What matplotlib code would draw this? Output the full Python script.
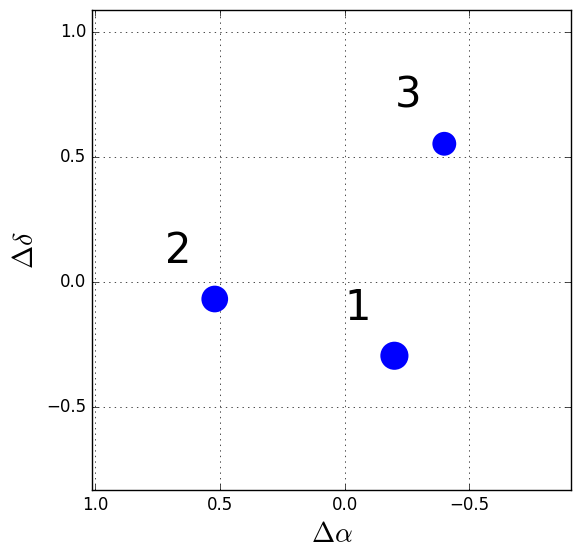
import matplotlib
matplotlib.use("Agg")
import matplotlib.pyplot as plt

# offsets of the sources (arcsec)
d_alpha = [-0.20, 0.52, -0.40]
d_delta = [-0.295, -0.068, 0.553]
sizes = [410, 370, 295]
labels = ["1", "2", "3"]

plt.style.use("classic")

fig = plt.figure(figsize=(5.8, 5.58), dpi=100, facecolor="white")
ax = fig.add_axes([0.1586, 0.1219, 0.826, 0.8601])

ax.scatter(d_alpha, d_delta, s=sizes, c="blue", linewidths=0, zorder=3)

# numbers sit up and to the left of each dot
for x, y, lab in zip(d_alpha, d_delta, labels):
    ax.text(x + 0.2, y + 0.145, lab, fontsize=30)

ax.set_xlim(1.012, -0.908)
ax.set_ylim(-0.832, 1.088)
ax.set_xticks([1.0, 0.5, 0.0, -0.5])
ax.set_yticks([-0.5, 0.0, 0.5, 1.0])
ax.tick_params(labelsize=12)
ax.grid(True)

ax.set_xlabel(r"$\Delta\alpha$", fontsize=20)
ax.set_ylabel(r"$\Delta\delta$", fontsize=20)

fig.savefig("out.png", dpi=100, facecolor="white")
